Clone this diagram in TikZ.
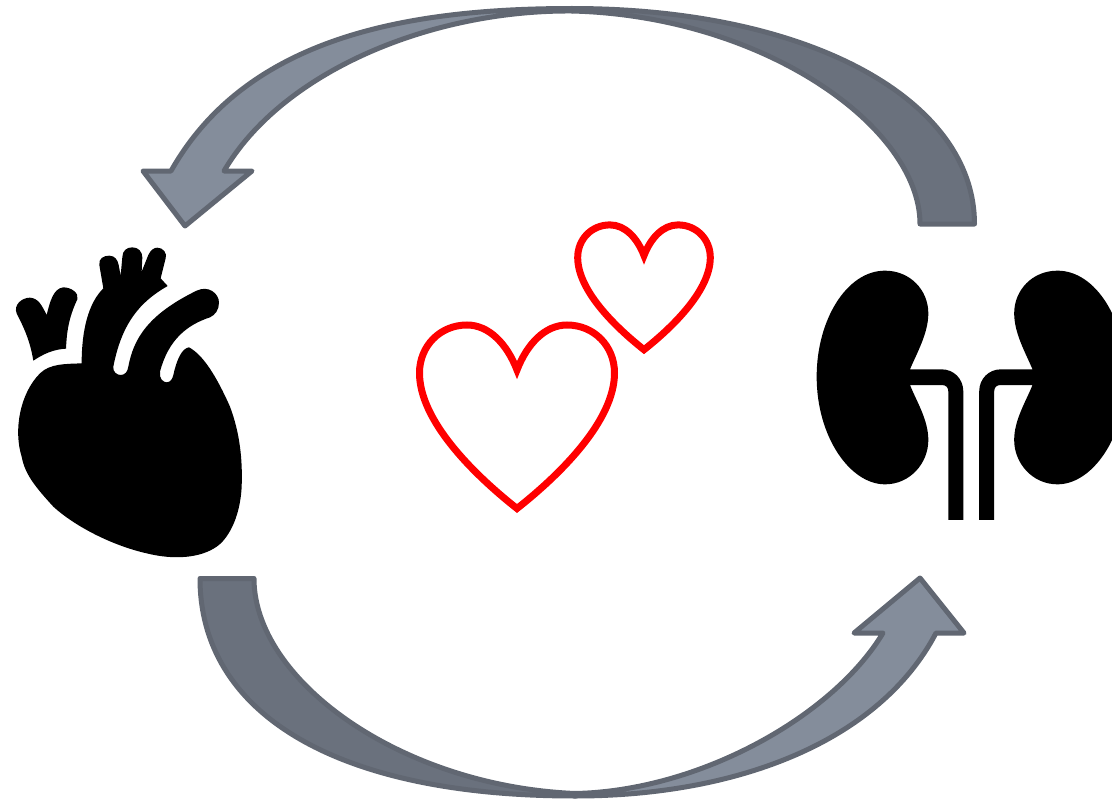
\documentclass[tikz,border=0pt]{standalone}
\usepackage{xcolor}
\definecolor{arrowLine}{HTML}{616772}
\definecolor{arrowLight}{HTML}{848D9B}
\definecolor{arrowDark}{HTML}{6A717D}
\tikzset{
  headband/.style={draw=arrowLine, fill=arrowLight, line width=5pt, line join=round},
  tailband/.style={draw=arrowLine, fill=arrowDark, line width=5pt, line join=round},
  loveheart/.pic={\draw[red, line width=7pt, miter limit=10]
    (0,0) .. controls (10,-26) and (28,-45) .. (50,-45)
    .. controls (77,-45) and (97.5,-24) .. (97.5,3)
    .. controls (97.5,50) and (45,103) .. (0,138.5)
    .. controls (-45,103) and (-97.5,50) .. (-97.5,3)
    .. controls (-97.5,-24) and (-77,-45) .. (-50,-45)
    .. controls (-28,-45) and (-10,-26) .. cycle;},
  kidneyicon/.pic={\fill[black]
    (330,358) .. controls (350,310) and (385,250) .. (385,190)
    .. controls (385,120) and (330,62) .. (255,62)
    .. controls (140,62) and (50,210) .. (50,380)
    .. controls (50,560) and (150,703) .. (255,703)
    .. controls (330,703) and (385,640) .. (385,570)
    .. controls (385,510) and (350,455) .. (330,405)
    -- (425,405) .. controls (438,405) and (445,412) .. (445,425)
    -- (445,810) -- (490,810) -- (490,425)
    .. controls (490,385) and (460,358) .. (425,358) -- cycle;}
}
\begin{document}
\begin{tikzpicture}[x=1pt, y=-1pt]
\clip (0,0) rectangle (1112,800);
% top arrow
\draw[tailband] (974.5,224) -- (920,224) .. controls (920,128) and (765,16) .. (572,11)
  -- (572,8.5) .. controls (810,8.5) and (974.5,100) .. cycle;
\draw[headband] (572,8.5) .. controls (400,8.5) and (245,40) .. (171,171) -- (143,171)
  -- (185,226) -- (252,171) -- (224,171) .. controls (282,72) and (430,10) .. (572,11) -- cycle;
% bottom arrow
\draw[tailband] (200,578.5) -- (254,578.5) .. controls (254,680) and (400,786) .. (575,793.5)
  -- (575,796) .. controls (330,796) and (200,710) .. cycle;
\draw[headband] (575,796) .. controls (740,796) and (880,740) .. (936,633) -- (964,633)
  -- (920,578) -- (854,633) -- (883,633) .. controls (833,716) and (700,791) .. (575,793.5) -- cycle;
% hearts in the middle
\pic at (517,370) {loveheart};
\pic[scale=0.68] at (644,255.5) {loveheart};
% heart icon
\begin{scope}[shift={(0,230)}, scale=1/3]
\fill[black] (245,400) .. controls (245,300) and (265,220) .. (310,175) -- (298,105)
  .. controls (296,85) and (310,77) .. (328,77)
  .. controls (345,77) and (353,90) .. (356,105) -- (362,137) -- (367,82)
  .. controls (367,62) and (380,52) .. (397,52)
  .. controls (415,52) and (427,65) .. (427,82) -- (425,125) -- (445,75)
  .. controls (452,60) and (462,53) .. (472,53)
  .. controls (490,53) and (502,70) .. (497,85) -- (482,145) -- (503,168)
  .. controls (420,215) and (365,280) .. (340,410)
  .. controls (338,425) and (350,435) .. (362,435)
  .. controls (375,435) and (383,425) .. (385,410)
  .. controls (400,330) and (440,255) .. (590,182)
  .. controls (625,165) and (657,190) .. (657,218)
  .. controls (657,240) and (645,255) .. (630,262)
  .. controls (560,285) and (505,330) .. (480,425)
  .. controls (476,445) and (490,457) .. (500,457)
  .. controls (512,457) and (518,445) .. (520,435)
  .. controls (530,390) and (545,355) .. (567,352)
  .. controls (610,375) and (650,440) .. (690,530)
  .. controls (720,610) and (728,690) .. (725,770)
  .. controls (720,870) and (680,930) .. (650,950)
  .. controls (600,985) and (520,990) .. (440,970)
  .. controls (330,945) and (220,885) .. (160,830)
  .. controls (110,775) and (75,735) .. (65,680)
  .. controls (40,600) and (60,490) .. (120,430)
  .. controls (150,400) and (200,402) .. cycle;
\fill[black] (100,392) .. controls (90,330) and (70,290) .. (50,250)
  .. controls (40,225) and (65,203) .. (90,203)
  .. controls (115,205) and (125,225) .. (140,255)
  .. controls (150,215) and (160,175) .. (190,172)
  .. controls (215,172) and (238,190) .. (232,208)
  .. controls (205,265) and (200,310) .. (198,356)
  .. controls (160,358) and (130,372) .. cycle;
\end{scope}
% kidney icon
\pic[scale=1/3] at (800,250) {kidneyicon};
\pic[xscale=-1/3, yscale=1/3] at (1142.5,250) {kidneyicon};
\end{tikzpicture}
\end{document}
